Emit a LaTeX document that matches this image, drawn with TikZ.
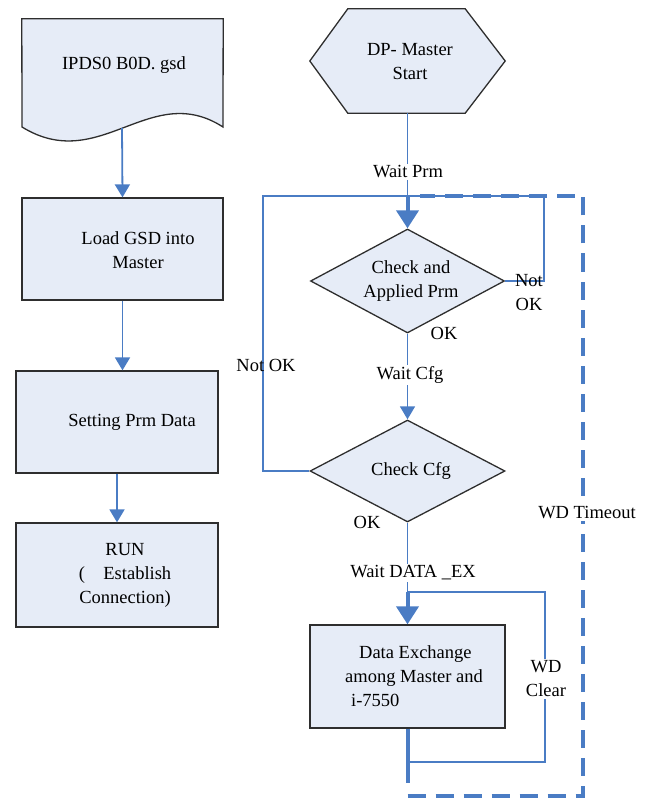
\documentclass[tikz,border=0pt]{standalone}
\usepackage{fontspec}
\setmainfont{Liberation Serif}
\usetikzlibrary{shapes.geometric,arrows.meta}
\definecolor{lnblue}{HTML}{4A7CC4}
\definecolor{boxfill}{HTML}{E6ECF7}
\definecolor{boxline}{HTML}{2E2E2E}
\begin{document}
\begin{tikzpicture}[x=1pt,y=-1pt,
  font=\fontsize{18.5}{24}\selectfont,
  box/.style={draw=boxline, line width=1.3pt, fill=boxfill, inner sep=0pt},
  dia/.style={diamond, draw=boxline, line width=1.3pt, fill=boxfill, inner sep=0pt},
  ghost/.style={inner sep=0pt},
  txt/.style={inner sep=0pt, align=center},
  conn/.style={draw=lnblue, line width=1.6pt},
  arr/.style={conn, line width=1.8pt, -{Triangle[length=13pt,width=15pt]}},
  bigarr/.style={conn, line width=4pt, -{Triangle[length=18pt,width=22pt]}},
  lbl/.style={fill=white, inner sep=1.5pt, align=center},
  wd/.style={draw=lnblue, line width=4.5pt, dash pattern=on 18pt off 10pt}
]
\path[use as bounding box] (0,0) rectangle (654,799);

% ---------- left column ----------
\node[ghost, minimum width=201pt, minimum height=108pt] (doc) at (122.5,73) {};
\draw[draw=boxline, line width=1.3pt, fill=boxfill]
  (doc.north west) -- (doc.north east) -- (223,127)
  .. controls (150,80) and (100,175) .. (22,127) -- cycle;
\node[txt] (doctext) at (124,65) {IPDS0 B0D. gsd};
\coordinate (docbot) at (122,128);

\node[box, minimum width=201pt, minimum height=102pt] (load) at (122.5,249) {};
\node[txt] (loadtext) at (138,250) {Load GSD into\\Master};

\node[box, minimum width=202pt, minimum height=102pt] (setprm) at (117,422) {};
\node[txt] (setprmtext) at (132,422) {Setting Prm Data};

\node[box, minimum width=202pt, minimum height=104pt] (run) at (117,575) {};
\node[txt] (runtext) at (125,575) {RUN\\(\quad Establish\\Connection)};

\draw[arr] (docbot) -- (load.north);
\draw[arr] (load.south) -- (load.south |- setprm.north);
\draw[arr] (setprm.south) -- (run.north);

% ---------- right column ----------
\node[ghost, minimum width=195pt, minimum height=104pt] (start) at (407.5,61) {};
\draw[draw=boxline, line width=1.3pt, fill=boxfill]
  (start.west) -- ([xshift=38pt]start.north west) -- ([xshift=-40pt]start.north east)
  -- (start.east) -- ([xshift=-40pt]start.south east) -- ([xshift=38pt]start.south west) -- cycle;
\node[txt] (starttext) at (410,61.5) {DP- Master\\Start};

\node[dia, minimum width=194pt, minimum height=104pt] (chk1) at (407.5,281) {};
\node[txt] (chk1text) at (411,281) {Check and\\Applied Prm};

\node[dia, minimum width=195pt, minimum height=102pt] (chk2) at (407.5,471) {};
\node[txt] (chk2text) at (411,471) {Check Cfg};

\node[box, minimum width=195pt, minimum height=103pt] (data) at (407.5,676.5) {};
\node[txt, align=left] (datatext) at (414,676) {\hspace*{14pt}Data Exchange\\among Master and\\\hspace*{6pt}i-7550};

\coordinate (j1) at (407.5,196);
\coordinate (nok1) at (544,196);
\coordinate (nok2) at (263,196);
\coordinate (j2) at (407.5,592);
\coordinate (wdc) at (545,592);
\coordinate (j3) at (407.5,762);
\coordinate (wdstart) at (407.5,783);
\coordinate (wdbl) at (407.5,796);
\coordinate (wdbr) at (583,796);
\coordinate (wdtr) at (583,196);
\coordinate (wdend) at (420,196);

% WD timeout dashed loop
\draw[draw=lnblue, line width=4pt] (data.south) -- (wdstart);
\draw[wd] (wdbl) -- (wdbr) -- (wdtr) -- (wdend);

% connectors
\draw[conn] (start.south) -- (j1);
\draw[conn] (chk1.east) -| (nok1) -- (j1);
\draw[conn] (chk2.west) -| (nok2) -- (j1);
\draw[bigarr] (j1) -- (chk1.north);
\draw[arr, line width=1.6pt] (chk1.south) -- (chk2.north);
\draw[conn] (chk2.south) -- (j2);
\draw[conn] (j3) -| (wdc) -- (j2);
\draw[bigarr] (j2) -- (data.north);

% labels
\node[lbl] (lwaitprm) at (408,172) {Wait Prm};
\node[txt] (lnotok1) at (529,293) {Not\\OK};
\node[txt] (lok1) at (444,333) {OK};
\node[lbl] (lwaitcfg) at (410,375) {Wait Cfg};
\node[txt] (lnotok2) at (266,365) {Not OK};
\node[txt] (lok2) at (367,522) {OK};
\node[lbl] (lwdto) at (587,513) {WD Timeout};
\node[lbl] (lwaitdx) at (413,573) {Wait DATA \_EX};
\node[lbl] (lwdclr) at (546,679) {WD\\Clear};
\end{tikzpicture}
\end{document}
